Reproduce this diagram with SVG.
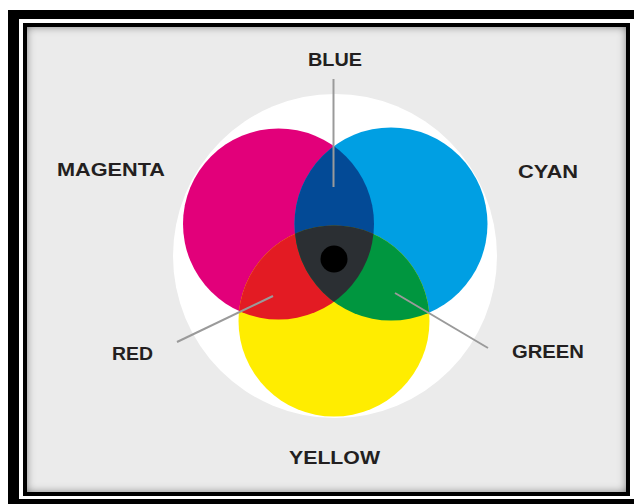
<svg xmlns="http://www.w3.org/2000/svg" width="634" height="504" viewBox="0 0 634 504">
  <style>
    .lbl { font-family: "Liberation Sans", Arial, sans-serif; font-weight: bold; font-size: 19px; fill: #231f20; }
    .lead { stroke: #9a9a9a; stroke-width: 2; fill: none; }
  </style>
  <defs>
    <filter id="inset" x="-0.1" y="-0.1" width="1.2" height="1.2">
      <feFlood flood-color="#000" flood-opacity="0.85" result="f"/>
      <feComposite in="f" in2="SourceAlpha" operator="out" result="o"/>
      <feGaussianBlur in="o" stdDeviation="4" result="b"/>
      <feComposite in="b" in2="SourceAlpha" operator="in" result="s"/>
      <feMerge><feMergeNode in="SourceGraphic"/><feMergeNode in="s"/></feMerge>
    </filter>
    <clipPath id="cM"><circle cx="278.5" cy="224" r="95.5"/></clipPath>
    <clipPath id="cC"><circle cx="391" cy="224" r="96.5"/></clipPath>
    <clipPath id="cY"><circle cx="334" cy="321" r="95.5"/></clipPath>
  </defs>

  <!-- frame -->
  <rect width="634" height="504" fill="#fff"/>
  <rect x="8" y="10" width="640" height="510" fill="#000"/>
  <rect x="19" y="19" width="620" height="480" fill="#fff"/>
  <rect x="23" y="23" width="607" height="473" fill="#000"/>
  <rect x="27" y="27" width="599" height="465" fill="#ebebeb" filter="url(#inset)"/>

  <!-- backdrop -->
  <circle id="backdrop" cx="335" cy="256" r="162" fill="#fff"/>

  <g id="magenta"><circle cx="278.5" cy="224" r="95.5" fill="#e2007a"/></g>
  <g id="cyan"><circle cx="391" cy="224" r="96.5" fill="#009fe3"/></g>
  <g id="yellow"><circle cx="334" cy="321" r="95.5" fill="#ffed00"/></g>
  <g id="blue"><circle cx="391" cy="224" r="96.5" fill="#034a96" clip-path="url(#cM)"/></g>
  <g id="red"><circle cx="334" cy="321" r="95.5" fill="#e31b23" clip-path="url(#cM)"/></g>
  <g id="green"><circle cx="334" cy="321" r="95.5" fill="#00963f" clip-path="url(#cC)"/></g>
  <g id="dark" clip-path="url(#cC)"><circle cx="334" cy="321" r="95.5" fill="#2b2f33" clip-path="url(#cM)"/></g>
  <g id="dot"><circle cx="334" cy="259" r="13.5" fill="#000"/></g>

  <g id="connectors">
    <line class="lead" x1="333.5" y1="79" x2="333.5" y2="187"/>
    <line class="lead" x1="177" y1="342" x2="273" y2="296"/>
    <line class="lead" x1="395" y1="293" x2="488" y2="348"/>
  </g>

  <g id="label-blue"><text class="lbl" x="335" y="66" text-anchor="middle" textLength="54" lengthAdjust="spacingAndGlyphs">BLUE</text></g>
  <g id="label-magenta"><text class="lbl" x="57" y="176" textLength="108" lengthAdjust="spacingAndGlyphs">MAGENTA</text></g>
  <g id="label-cyan"><text class="lbl" x="518" y="178" textLength="60" lengthAdjust="spacingAndGlyphs">CYAN</text></g>
  <g id="label-red"><text class="lbl" x="112" y="360" textLength="41" lengthAdjust="spacingAndGlyphs">RED</text></g>
  <g id="label-green"><text class="lbl" x="512" y="358" textLength="72" lengthAdjust="spacingAndGlyphs">GREEN</text></g>
  <g id="label-yellow"><text class="lbl" x="289" y="464" textLength="91" lengthAdjust="spacingAndGlyphs">YELLOW</text></g>
</svg>
